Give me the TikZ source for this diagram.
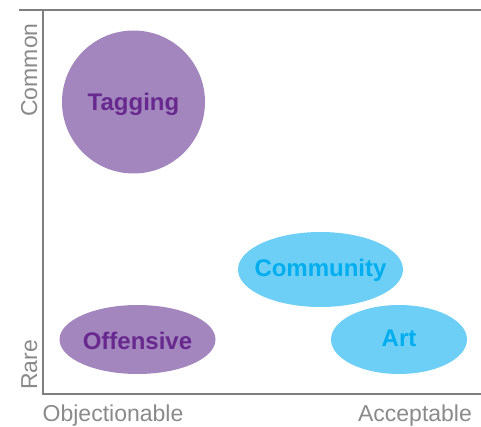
\documentclass[tikz,border=0pt]{standalone}
\usepackage{fontspec}
\setmainfont{Liberation Sans}
\usetikzlibrary{shapes.geometric}
\definecolor{axisgray}{HTML}{7F7F7F}
\definecolor{labelgray}{HTML}{8A8A8A}
\definecolor{purplefill}{HTML}{A386BE}
\definecolor{purpletext}{HTML}{68298F}
\definecolor{bluefill}{HTML}{6DCFF6}
\definecolor{bluetext}{HTML}{00AEEF}
\tikzset{
  axisline/.style={draw=axisgray, line width=2.2pt},
  axislabel/.style={text=labelgray, font=\fontsize{23}{27}\selectfont, inner sep=0pt},
  blob/.style={ellipse, inner sep=0pt},
  blobtext/.style={inner sep=0pt, font=\bfseries\fontsize{24}{28}\selectfont},
  purpleblob/.style={blob, fill=purplefill},
  blueblob/.style={blob, fill=bluefill},
  purpletxt/.style={blobtext, text=purpletext},
  bluetxt/.style={blobtext, text=bluetext}
}
\begin{document}
\begin{tikzpicture}[x=1pt, y=-1pt]
\useasboundingbox (0,0) rectangle (481,427);
\coordinate (tl) at (19,10);
\coordinate (tr) at (481,10);
\coordinate (ot) at (43,10);
\coordinate (o) at (43,394);
\coordinate (br) at (481,394);
\draw[axisline] (tl) -- (tr);
\draw[axisline] (ot) -- (o) -- (br);
\node[axislabel, rotate=90, anchor=base] (common) at (37,70) {Common};
\node[axislabel, rotate=90, anchor=base] (rare) at (37,365) {Rare};
\node[axislabel, anchor=base] (objectionable) at (113,421) {Objectionable};
\node[axislabel, anchor=base] (acceptable) at (415,421) {Acceptable};
\node[purpleblob, circle, minimum size=143pt] (tagging) at (133.5,102) {};
\node[purpletxt] (taggingtext) at ([yshift=-2pt]tagging.center) {Tagging};
\node[purpleblob, minimum width=156pt, minimum height=69pt] (offensive) at (137.5,339.5) {};
\node[purpletxt] (offensivetext) at ([yshift=-1pt]offensive.center) {Offensive};
\node[blueblob, minimum width=165pt, minimum height=75pt] (community) at (320.5,269.5) {};
\node[bluetxt] (communitytext) at ([yshift=-1pt]community.center) {Community};
\node[blueblob, minimum width=136pt, minimum height=69pt] (art) at (399,339.5) {};
\node[bluetxt] (arttext) at ([yshift=1pt]art.center) {Art};
\end{tikzpicture}
\end{document}
